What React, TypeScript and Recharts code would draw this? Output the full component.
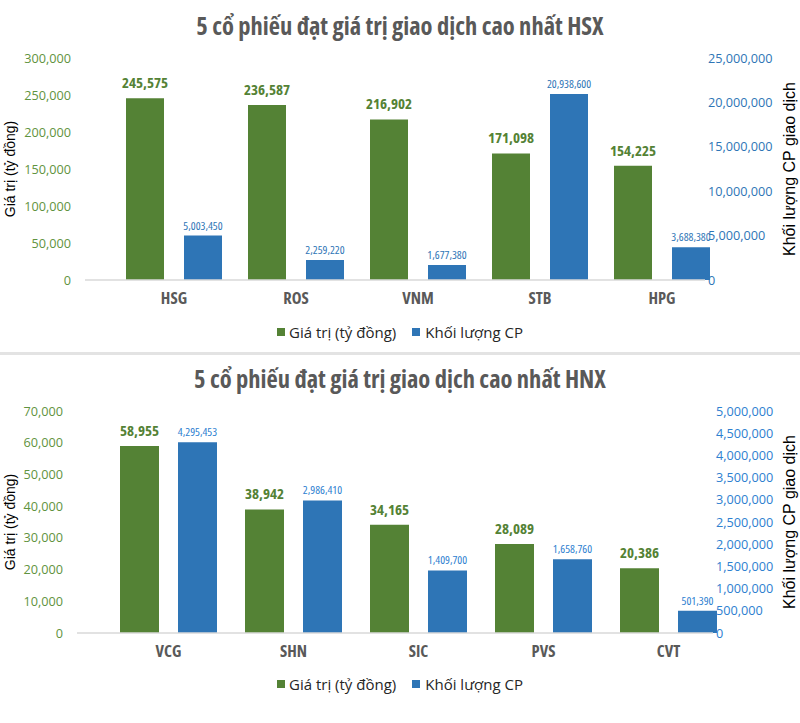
import React from "react";
import { BarChart, Bar, XAxis, YAxis, LabelList, Legend } from "recharts";

// HSX
const hsxCodes = ["HSG", "ROS", "VNM", "STB", "HPG"];
const hsxValue = [245575, 236587, 216902, 171098, 154225];
const hsxVolume = [5003450, 2259220, 1677380, 20938600, 3688380];
const hsxValueTicks = [0, 50000, 100000, 150000, 200000, 250000, 300000];
const hsxVolumeTicks = [0, 5000000, 10000000, 15000000, 20000000, 25000000];

// HNX
const hnxCodes = ["VCG", "SHN", "SIC", "PVS", "CVT"];
const hnxValue = [58955, 38942, 34165, 28089, 20386];
const hnxVolume = [4295453, 2986410, 1409700, 1658760, 501390];
const hnxValueTicks = [0, 10000, 20000, 30000, 40000, 50000, 60000, 70000];
const hnxVolumeTicks = [0, 500000, 1000000, 1500000, 2000000, 2500000, 3000000, 3500000, 4000000, 4500000, 5000000];

const GREEN = "#548235";
const BLUE = "#2E75B6";
const SANS = "'Open Sans', Roboto, sans-serif";
const ARIAL = "'Liberation Sans', Arial, sans-serif";

const fmt = (v: number) => v.toLocaleString("en-US");

const LegendBox = () => (
  <div
    style={{
      display: "flex",
      justifyContent: "center",
      alignItems: "center",
      height: 20,
      fontFamily: SANS,
      fontSize: 15,
      color: "#262626",
    }}
  >
    <span style={{ width: 8, height: 8, background: GREEN, marginRight: 4 }} />
    <span style={{ marginRight: 16 }}>Giá trị (tỷ đồng)</span>
    <span style={{ width: 8, height: 8, background: BLUE, marginRight: 5 }} />
    <span>Khối lượng CP</span>
  </div>
);

type PanelProps = {
  top: number;
  height: number;
  title: string;
  codes: string[];
  values: number[];
  volumes: number[];
  valueTicks: number[];
  volumeTicks: number[];
  plotTop: number;
  plotBottom: number;
  plotLeft: number;
  plotRight: number;
  padLeft: number;
  padRight: number;
  barSize: number;
  barGap: number;
  legendTop: number;
  volColor: string;
};

const Panel = (p: PanelProps) => {
  const data = p.codes.map((code, i) => ({ code, value: p.values[i], volume: p.volumes[i] }));
  const xAxisH = 30;
  const legendH = 20;
  const mid = (p.plotTop + p.plotBottom) / 2;
  return (
    <div style={{ position: "absolute", left: 0, top: p.top, width: 800, height: p.height }}>
      <div
        style={{
          position: "absolute",
          top: 0,
          left: 0,
          width: 800,
          textAlign: "center",
          fontFamily: SANS,
          fontStretch: "75%",
          fontWeight: "bold",
          fontSize: 24.5,
          color: "#595959",
          lineHeight: "30px",
          marginTop: p.plotTop - 47,
        }}
      >
        {p.title}
      </div>
      <div
        style={{
          position: "absolute",
          left: 10,
          top: mid,
          transform: "translate(-50%, -50%) rotate(-90deg)",
          whiteSpace: "nowrap",
          fontFamily: ARIAL,
          fontSize: 14,
          color: "#000",
        }}
      >
        Giá trị (tỷ đồng)
      </div>
      <div
        style={{
          position: "absolute",
          left: 790,
          top: mid,
          transform: "translate(-50%, -50%) rotate(-90deg)",
          whiteSpace: "nowrap",
          fontFamily: ARIAL,
          fontSize: 16,
          color: "#000",
        }}
      >
        Khối lượng CP giao dịch
      </div>
      <BarChart
        width={800}
        height={p.height}
        data={data}
        barSize={p.barSize}
        barGap={p.barGap}
        margin={{ top: p.plotTop, left: 0, right: 0, bottom: p.height - p.plotBottom - xAxisH - legendH }}
      >
        <XAxis
          dataKey="code"
          height={xAxisH}
          padding={{ left: p.padLeft, right: p.padRight }}
          axisLine={{ stroke: "#d9d9d9", strokeWidth: 1.5 }}
          tickLine={false}
          tickMargin={6}
          tick={{ fill: "#595959", fontSize: 16.5, fontWeight: "bold", fontFamily: SANS, fontStretch: "75%" }}
        />
        <YAxis
          yAxisId="l"
          width={p.plotLeft}
          domain={[0, p.valueTicks[p.valueTicks.length - 1]]}
          ticks={p.valueTicks}
          interval={0}
          tickFormatter={fmt}
          axisLine={false}
          tickLine={false}
          tickSize={0}
          tickMargin={14}
          tick={{ fill: "#5f9340", fontSize: 12.7, fontFamily: SANS }}
        />
        <YAxis
          yAxisId="r"
          orientation="right"
          width={800 - p.plotRight}
          domain={[0, p.volumeTicks[p.volumeTicks.length - 1]]}
          ticks={p.volumeTicks}
          interval={0}
          tickFormatter={fmt}
          axisLine={false}
          tickLine={false}
          tickSize={0}
          tickMargin={3}
          tick={{ fill: p.volColor, fontSize: 12.7, fontFamily: SANS, textAnchor: "start" }}
        />
        <Legend verticalAlign="bottom" wrapperStyle={{ top: p.legendTop, left: 0, width: 800 }} content={() => <LegendBox />} />
        <Bar yAxisId="l" dataKey="value" name="Giá trị (tỷ đồng)" fill={GREEN} isAnimationActive={false}>
          <LabelList
            dataKey="value"
            position="top"
            offset={10}
            formatter={fmt}
            style={{ fill: GREEN, fontSize: 15, fontWeight: "bold", fontFamily: SANS, fontStretch: "75%" }}
          />
        </Bar>
        <Bar yAxisId="r" dataKey="volume" name="Khối lượng CP" fill={BLUE} isAnimationActive={false}>
          <LabelList
            dataKey="volume"
            position="top"
            offset={6}
            formatter={fmt}
            style={{ fill: p.volColor, fontSize: 11.5, fontFamily: SANS, fontStretch: "75%" }}
          />
        </Bar>
      </BarChart>
    </div>
  );
};

export default function App() {
  return (
    <div style={{ position: "absolute", left: 0, top: 0, width: 800, height: 723, background: "#fff", overflow: "hidden" }}>
      <Panel
        top={0}
        height={352}
        title="5 cổ phiếu đạt giá trị giao dịch cao nhất HSX"
        codes={hsxCodes}
        values={hsxValue}
        volumes={hsxVolume}
        valueTicks={hsxValueTicks}
        volumeTicks={hsxVolumeTicks}
        plotTop={58}
        plotBottom={280}
        plotLeft={85}
        plotRight={705}
        padLeft={28}
        padRight={-18}
        barSize={38}
        barGap={20}
        legendTop={322}
        volColor={BLUE}
      />
      <div style={{ position: "absolute", left: 0, top: 352, width: 800, height: 3, background: "#e3e3e3" }} />
      <Panel
        top={355}
        height={368}
        title="5 cổ phiếu đạt giá trị giao dịch cao nhất HNX"
        codes={hnxCodes}
        values={hnxValue}
        volumes={hnxVolume}
        valueTicks={hnxValueTicks}
        volumeTicks={hnxVolumeTicks}
        plotTop={56}
        plotBottom={278}
        plotLeft={77}
        plotRight={713}
        padLeft={29}
        padRight={-18}
        barSize={39}
        barGap={19}
        legendTop={319}
        volColor="#2d80d0"
      />
    </div>
  );
}
